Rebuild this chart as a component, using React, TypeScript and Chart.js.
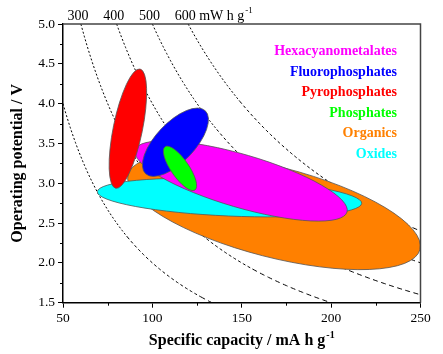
import React, { useEffect, useRef } from 'react';
import { Chart, registerables } from 'chart.js';
Chart.register(...registerables);

const FONT = '"Liberation Serif", "Times New Roman", serif';

// Axis ranges
const X_MIN = 50;
const X_MAX = 250;
const Y_MIN = 1.5;
const Y_MAX = 5.0;

// Iso-energy curves (mW h g^-1): V = E / C
const energyLevels = [200, 300, 400, 500, 600];
const labeledEnergies = [300, 400, 500, 600];
const energyUnit = ' mW h g';

// Material families (ellipse regions)
const categories = ['Hexacyanometalates', 'Fluorophosphates', 'Pyrophosphates', 'Phosphates', 'Organics', 'Oxides'];
const colors = ['#FF00FF', '#0000FF', '#FF0000', '#00FF00', '#FF8000', '#00FFFF'];
// Major-axis end points of each ellipse (capacity, potential)
const capStart = [90.3, 96.2, 79.5, 107.1, 86.4, 69.2];
const potStart = [3.418, 3.12, 2.937, 3.459, 3.11, 2.894];
const capEnd = [208.9, 129.6, 93.1, 123.8, 249.7, 217.1];
const potEnd = [2.639, 3.91, 4.435, 2.915, 2.168, 2.748];
const axisRatio = [0.24, 0.45, 0.24, 0.34, 0.3, 0.14];
const drawOrder = [4, 5, 0, 2, 1, 3];

export default function App() {
  const ref = useRef<HTMLCanvasElement>(null);

  useEffect(() => {
    const canvas = ref.current!;

    const curveDatasets: any[] = energyLevels.map((E) => {
      const pts: { x: number; y: number }[] = [];
      const c0 = Math.max(X_MIN, E / Y_MAX);
      const c1 = Math.min(X_MAX, E / Y_MIN);
      for (let c = c0; c < c1; c += 1) pts.push({ x: c, y: E / c });
      pts.push({ x: c1, y: E / c1 });
      return {
        type: 'line',
        label: 'E' + E,
        data: pts,
        borderColor: '#000',
        borderWidth: 1,
        pointRadius: 0,
        fill: false,
        tension: 0,
        segment: {
          borderDash: (ctx: any) => {
            const dx = Math.abs(ctx.p1.x - ctx.p0.x) || 0.0001;
            const s = Math.abs(ctx.p1.y - ctx.p0.y) / dx;
            if (s > 1.2) return [2, 2];
            if (s > 0.55) return [3, 2.5];
            return [5, 3.5];
          },
        },
      };
    });

    const ellipseDatasets: any[] = categories.map((name, i) => ({
      type: 'scatter',
      label: name,
      data: [
        { x: capStart[i], y: potStart[i] },
        { x: capEnd[i], y: potEnd[i] },
      ],
      pointRadius: 0,
      showLine: false,
      backgroundColor: colors[i],
    }));

    const nCurves = curveDatasets.length;

    const ellipsePlugin = {
      id: 'ellipses',
      afterDatasetsDraw(chart: any) {
        const { ctx, chartArea } = chart;
        ctx.save();
        ctx.beginPath();
        ctx.rect(chartArea.left, chartArea.top, chartArea.right - chartArea.left, chartArea.bottom - chartArea.top);
        ctx.clip();
        drawOrder.forEach((i) => {
          const meta = chart.getDatasetMeta(nCurves + i);
          const p0 = meta.data[0];
          const p1 = meta.data[1];
          const cx = (p0.x + p1.x) / 2;
          const cy = (p0.y + p1.y) / 2;
          const a = Math.hypot(p1.x - p0.x, p1.y - p0.y) / 2;
          const ang = Math.atan2(p1.y - p0.y, p1.x - p0.x);
          ctx.beginPath();
          ctx.ellipse(cx, cy, a, a * axisRatio[i], ang, 0, Math.PI * 2);
          ctx.fillStyle = colors[i];
          ctx.fill();
          ctx.lineWidth = 0.8;
          ctx.strokeStyle = '#555';
          ctx.stroke();
        });
        ctx.restore();
      },
    };

    const decorPlugin = {
      id: 'decor',
      afterDraw(chart: any) {
        const { ctx, chartArea } = chart;
        const xs = chart.scales.x;
        const ys = chart.scales.y;
        ctx.save();
        // frame top & right
        ctx.strokeStyle = '#444';
        ctx.lineWidth = 1.5;
        ctx.beginPath();
        ctx.moveTo(chartArea.left, chartArea.top);
        ctx.lineTo(chartArea.right, chartArea.top);
        ctx.lineTo(chartArea.right, chartArea.bottom);
        ctx.stroke();
        // minor ticks
        ctx.strokeStyle = '#000';
        ctx.lineWidth = 1;
        ctx.beginPath();
        for (let v = X_MIN + 25; v < X_MAX; v += 50) {
          const px = Math.round(xs.getPixelForValue(v)) + 0.5;
          ctx.moveTo(px, chartArea.bottom);
          ctx.lineTo(px, chartArea.bottom + 3);
        }
        for (let v = Y_MIN + 0.25; v < Y_MAX; v += 0.5) {
          const py = Math.round(ys.getPixelForValue(v)) + 0.5;
          ctx.moveTo(chartArea.left, py);
          ctx.lineTo(chartArea.left - 3, py);
        }
        ctx.stroke();

        ctx.fillStyle = '#000';
        // top energy labels
        ctx.font = '14px ' + FONT;
        ctx.textBaseline = 'alphabetic';
        labeledEnergies.forEach((E, k) => {
          const px = xs.getPixelForValue(E / Y_MAX) - 3;
          const txt = String(E);
          const w = ctx.measureText(txt).width;
          ctx.textAlign = 'left';
          ctx.fillText(txt, px - w / 2, 20);
          if (k === labeledEnergies.length - 1) {
            const ux = px + w / 2;
            ctx.fillText(energyUnit, ux, 20);
            const uw = ctx.measureText(energyUnit).width;
            ctx.font = '9px ' + FONT;
            ctx.fillText('-1', ux + uw + 1, 13);
            ctx.font = '14px ' + FONT;
          }
        });

        // legend texts
        ctx.font = 'bold 14px ' + FONT;
        ctx.textAlign = 'right';
        categories.forEach((name, i) => {
          ctx.fillStyle = colors[i];
          ctx.fillText(name, chartArea.right - 23.5, chartArea.top + 31 + i * 20.6);
        });

        // x title
        ctx.fillStyle = '#000';
        ctx.font = 'bold 16px ' + FONT;
        const main = 'Specific capacity / mA h g';
        const mw = ctx.measureText(main).width;
        ctx.font = 'bold 10px ' + FONT;
        const sw = ctx.measureText('-1').width;
        const cxT = (chartArea.left + chartArea.right) / 2;
        const startX = cxT - (mw + sw + 1) / 2;
        ctx.textAlign = 'left';
        ctx.font = 'bold 16px ' + FONT;
        ctx.fillText(main, startX, 345);
        ctx.font = 'bold 10px ' + FONT;
        ctx.fillText('-1', startX + mw + 1, 338);

        // y title
        ctx.save();
        ctx.translate(18, (chartArea.top + chartArea.bottom) / 2);
        ctx.rotate(-Math.PI / 2);
        ctx.font = 'bold 16px ' + FONT;
        ctx.textAlign = 'center';
        ctx.textBaseline = 'middle';
        ctx.fillText('Operating potential / V', 0, 0);
        ctx.restore();

        ctx.restore();
      },
    };

    const chart = new Chart(canvas, {
      data: { datasets: [...curveDatasets, ...ellipseDatasets] },
      options: {
        animation: false,
        responsive: true,
        maintainAspectRatio: false,
        layout: { padding: { left: 0, right: 22.5, top: 24, bottom: 0 } },
        plugins: { legend: { display: false }, tooltip: { enabled: false } },
        scales: {
          x: {
            type: 'linear',
            min: X_MIN,
            max: X_MAX,
            afterFit: (s: any) => {
              s.height = 51.3;
            },
            ticks: {
              stepSize: 50,
              color: '#000',
              font: { family: FONT, size: 13.5 },
              padding: 3,
              maxRotation: 0,
              autoSkip: false,
            },
            grid: { drawOnChartArea: false, tickLength: 5, color: '#000' },
            border: { color: '#000', width: 1.5 },
          },
          y: {
            type: 'linear',
            min: Y_MIN,
            max: Y_MAX,
            afterFit: (s: any) => {
              s.width = 63;
            },
            ticks: {
              stepSize: 0.5,
              color: '#000',
              font: { family: FONT, size: 13.5 },
              padding: 3,
              callback: (v: any) => Number(v).toFixed(1),
            },
            grid: { drawOnChartArea: false, tickLength: 5, color: '#000' },
            border: { color: '#000', width: 1.5 },
          },
        },
      },
      plugins: [ellipsePlugin, decorPlugin],
    } as any);

    return () => chart.destroy();
  }, []);

  return (
    <div style={{ position: 'fixed', left: 0, top: 0, width: 443, height: 354, background: '#fff' }}>
      <canvas ref={ref} />
    </div>
  );
}
